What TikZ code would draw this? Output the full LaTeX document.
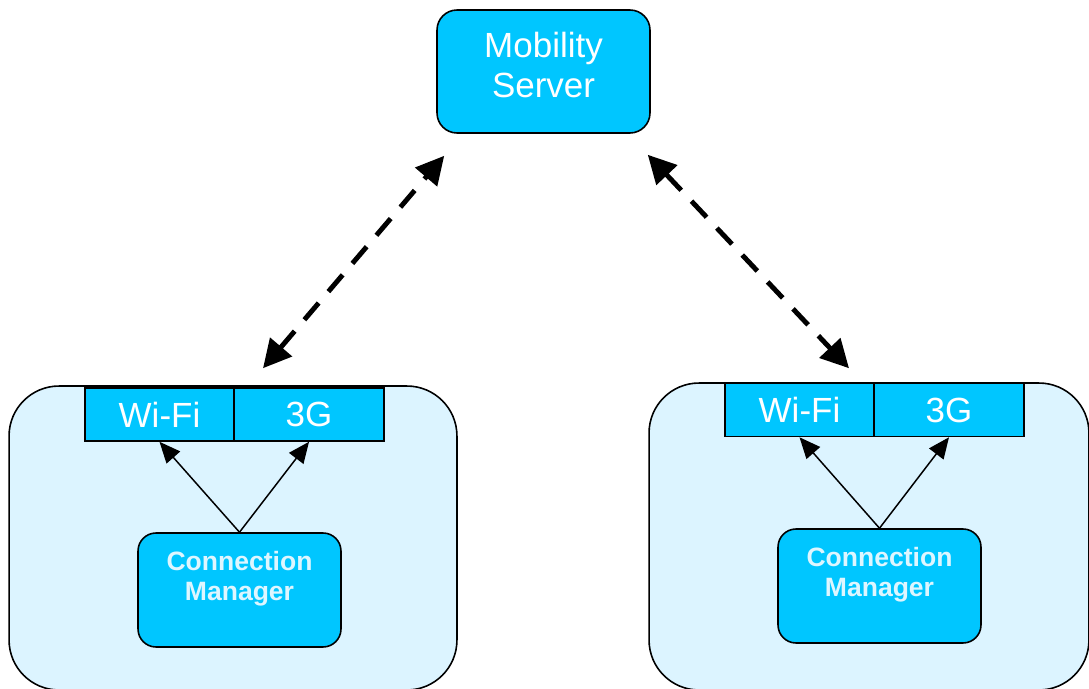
\documentclass[tikz,border=0pt]{standalone}
\usepackage{fontspec}
\setmainfont{Liberation Sans}
\usetikzlibrary{arrows.meta,calc}
\definecolor{boxcyan}{RGB}{0,198,255}
\definecolor{devback}{RGB}{220,244,255}
\definecolor{cmtext}{RGB}{222,246,255}

\begin{document}
\begin{tikzpicture}%
	[x=0.02cm, y=-0.02cm,
	server/.style={draw=black, line width=0.9pt, fill=boxcyan, rounded corners=0.4cm,
		minimum width=4.26cm, minimum height=2.46cm, inner sep=0pt},
	device/.style={draw=black, line width=0.9pt, fill=devback, rounded corners=1cm, inner sep=0pt},
	radio/.style={draw=black, line width=0.9pt, fill=boxcyan, minimum height=1.06cm, inner sep=0pt,
		text=white, font=\fontsize{19.9pt}{22.8pt}\selectfont},
	manager/.style={draw=black, line width=0.9pt, fill=boxcyan, rounded corners=0.36cm,
		minimum width=4.06cm, minimum height=2.28cm, inner sep=0pt},
	biglabel/.style={text=white, align=center, inner sep=0pt, font=\fontsize{19.9pt}{22.8pt}\selectfont},
	cmlabel/.style={text=cmtext, align=center, inner sep=0pt, font=\fontsize{15.1pt}{17pt}\selectfont\bfseries},
	link/.style={line width=2.8pt, dash pattern=on 0.44cm off 0.30cm,
		{Triangle[length=0.56cm, width=0.56cm]}-{Triangle[length=0.56cm, width=0.56cm]}},
	uses/.style={line width=0.85pt, -{Triangle[length=0.42cm, width=0.36cm]}}]
%
\useasboundingbox (0,0) rectangle (1089,689);
%%
%% Server on top
%%
\node[server] (server) at (543.5,71.5) {};
\node[biglabel] (serverlabel) at (543.5,65) {Mobility\\Server};
%%
%% Left device
%%
\node[device, minimum width=8.96cm, minimum height=6.08cm] (devL) at (233,538) {};
\node[radio, minimum width=2.98cm] (wifiL) at (159.5,414.5) {Wi-Fi};
\node[radio, minimum width=3.00cm] (threegL) at (309,414.5) {3G};
\node[manager] (cmL) at (239.5,590) {};
\node[cmlabel] (cmLlabel) at (239.5,579) {Connection\\Manager};
%%
%% Right device
%%
\node[device, minimum width=8.80cm, minimum height=6.14cm] (devR) at (869,536.5) {};
\node[radio, minimum width=2.98cm] (wifiR) at (799.5,410) {Wi-Fi};
\node[radio, minimum width=3.00cm] (threegR) at (949,410) {3G};
\node[manager] (cmR) at (879.5,586) {};
\node[cmlabel] (cmRlabel) at (879.5,575) {Connection\\Manager};
%%
%% Ends of the dashed links
%%
\coordinate (srvL) at ($(server.south west)+(8,22)$);
\coordinate (srvR) at ($(server.south east)+(-3,21)$);
\coordinate (topL) at ($(devL.north)+(30,-17)$);
\coordinate (topR) at ($(devR.north)+(-20,-14)$);
%%
%% Links
%%
\draw[link] (topL) -- (srvL);
\draw[link] (srvR) -- (topR);
\draw[uses] (cmL.north) -- (wifiL.south);
\draw[uses] (cmL.north) -- (threegL.south);
\draw[uses] (cmR.north) -- (wifiR.south);
\draw[uses] (cmR.north) -- (threegR.south);
%%
\end{tikzpicture}
\end{document}
